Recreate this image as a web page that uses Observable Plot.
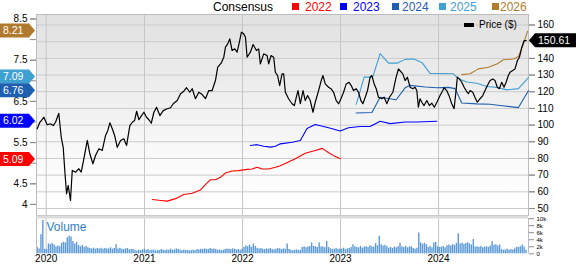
<!DOCTYPE html>
<html>
<head>
<meta charset="utf-8">
<script src="https://cdn.jsdelivr.net/npm/d3@7"></script>
<script src="https://cdn.jsdelivr.net/npm/@observablehq/plot@0.6"></script>
<style>
  body { margin: 0; background: #fff; font-family: "Liberation Sans", Arial, sans-serif; }
  #wrap { position: relative; width: 576px; height: 264px; overflow: hidden; background: #fff; }
  #legend { position: absolute; left: 0; top: 0; width: 576px; height: 14px; font-size: 12px; }
  #legend span { position: absolute; top: 1px; line-height: 12px; white-space: nowrap; }
  #legend i { position: absolute; top: 3px; width: 7px; height: 7px; }
  #main { position: absolute; left: 0; top: 14px; }
  #vol { position: absolute; left: 0; top: 215px; }
  #plegend { position: absolute; left: 464px; top: 20px; font-size: 10px; line-height: 10px; z-index: 5; }
  #plegend i { position: absolute; left: 0; top: 2.7px; width: 10px; height: 4px; background: #000; }
  #plegend span { position: absolute; left: 15px; top: 0; white-space: nowrap; }
</style>
</head>
<body>
<div id="wrap">
  <div id="legend"></div>
  <div id="main"></div>
  <div id="vol"></div>
  <div id="plegend"><i></i><span>Price ($)</span></div>
</div>
<script>
// ---------------- DATA ----------------
// Price line: [decimal year, price $]
const price = [
[2019.908,97.8],[2019.935,101.7],[2019.976,104.7],[2020.010,100.2],[2020.044,100.8],[2020.071,99.7],[2020.095,101.7],[2020.128,107.1],
[2020.153,92.7],[2020.173,86.7],[2020.189,72.8],[2020.207,58.8],[2020.224,63.8],[2020.247,54.8],[2020.265,72.8],[2020.298,71.8],
[2020.332,73.8],[2020.356,71.8],[2020.383,79.8],[2020.418,90.8],[2020.444,82.8],[2020.475,76.8],[2020.502,81.8],[2020.536,85.8],
[2020.570,84.8],[2020.604,93.8],[2020.627,96.8],[2020.648,101.4],[2020.672,97.8],[2020.696,93.8],[2020.723,86.7],[2020.757,90.8],
[2020.790,91.8],[2020.818,87.8],[2020.851,99.7],[2020.876,101.7],[2020.899,102.7],[2020.920,108.3],[2020.943,103.2],[2020.970,105.7],
[2020.994,107.7],[2021.021,104.7],[2021.045,103.2],[2021.069,101.1],[2021.096,107.7],[2021.123,110.7],[2021.157,105.7],[2021.191,108.7],
[2021.232,109.8],[2021.266,110.4],[2021.293,112.8],[2021.334,114.7],[2021.368,118.8],[2021.401,120.3],[2021.429,122.4],[2021.462,119.7],
[2021.487,121.8],[2021.520,115.8],[2021.554,119.7],[2021.589,118.3],[2021.622,115.8],[2021.656,120.7],[2021.690,120.7],[2021.724,126.7],
[2021.747,134.7],[2021.782,137.1],[2021.809,140.7],[2021.826,146.7],[2021.849,148.7],[2021.870,151.7],[2021.894,144.7],[2021.921,145.7],
[2021.945,143.7],[2021.968,149.7],[2021.989,155.7],[2022.012,154.7],[2022.030,152.7],[2022.047,140.7],[2022.080,143.7],[2022.108,148.3],
[2022.142,144.7],[2022.165,145.7],[2022.182,136.7],[2022.216,142.7],[2022.251,141.7],[2022.267,136.7],[2022.291,141.7],[2022.318,140.7],
[2022.335,131.7],[2022.358,129.7],[2022.379,123.7],[2022.403,130.7],[2022.420,130.7],[2022.437,119.7],[2022.470,115.8],[2022.505,112.8],
[2022.529,111.7],[2022.549,116.7],[2022.566,120.7],[2022.590,112.8],[2022.617,120.7],[2022.640,114.7],[2022.664,117.7],[2022.691,114.7],
[2022.719,107.7],[2022.742,113.7],[2022.776,120.7],[2022.803,126.7],[2022.821,129.7],[2022.844,124.7],[2022.878,122.7],[2022.902,121.8],
[2022.929,119.7],[2022.956,114.7],[2022.980,112.8],[2023.004,115.8],[2023.031,119.7],[2023.058,124.7],[2023.086,125.7],[2023.109,123.7],
[2023.132,120.7],[2023.160,121.8],[2023.183,119.7],[2023.208,114.7],[2023.228,112.8],[2023.252,116.7],[2023.275,120.7],[2023.302,128.7],
[2023.320,129.7],[2023.343,124.7],[2023.364,121.8],[2023.387,116.7],[2023.422,115.8],[2023.445,116.7],[2023.473,112.8],[2023.499,116.7],
[2023.534,119.7],[2023.567,128.7],[2023.591,133.7],[2023.635,130.7],[2023.659,126.7],[2023.682,128.7],[2023.710,122.7],[2023.737,121.8],
[2023.760,122.7],[2023.778,120.7],[2023.794,110.7],[2023.811,115.8],[2023.829,113.7],[2023.852,111.7],[2023.880,114.7],[2023.906,111.7],
[2023.931,113.1],[2023.957,110.7],[2023.988,114.3],[2024.015,117.7],[2024.043,120.7],[2024.056,122.4],[2024.083,120.7],[2024.110,117.1],
[2024.134,112.8],[2024.158,109.8],[2024.178,120.7],[2024.191,128.7],[2024.212,127.7],[2024.236,125.7],[2024.260,122.7],[2024.280,120.7],
[2024.303,118.8],[2024.321,120.7],[2024.348,119.7],[2024.372,116.4],[2024.395,113.7],[2024.422,115.8],[2024.450,117.7],[2024.473,120.7],
[2024.497,123.7],[2024.524,126.7],[2024.551,127.7],[2024.574,126.7],[2024.598,122.7],[2024.618,121.8],[2024.643,125.7],[2024.666,122.7],
[2024.687,125.7],[2024.710,129.7],[2024.727,131.7],[2024.755,132.7],[2024.778,133.7],[2024.802,138.7],[2024.823,140.7],[2024.847,146.7],
[2024.871,150.7],[2024.891,150.61]
];
// Consensus EPS estimates: [decimal year, EPS]
const eps2022 = [[2021.080,4.12],[2021.147,4.10],[2021.232,4.08],[2021.317,4.14],[2021.401,4.24],[2021.487,4.27],[2021.571,4.35],
[2021.622,4.48],[2021.673,4.60],[2021.724,4.60],[2021.775,4.66],[2021.826,4.76],[2021.894,4.81],[2021.961,4.82],[2022.047,4.85],
[2022.098,4.86],[2022.149,4.90],[2022.200,4.86],[2022.267,4.86],[2022.335,4.90],[2022.386,4.94],[2022.539,5.11],[2022.640,5.24],
[2022.742,5.31],[2022.814,5.36],[2022.875,5.26],[2022.926,5.19],[2022.997,5.11]];
const eps2023 = [[2022.080,5.43],[2022.149,5.45],[2022.216,5.41],[2022.284,5.39],[2022.335,5.41],[2022.386,5.47],[2022.508,5.51],
[2022.590,5.55],[2022.658,5.84],[2022.742,5.94],[2022.878,5.86],[2022.997,5.78],[2023.081,5.86],[2023.201,5.89],[2023.302,5.89],
[2023.404,6.02],[2023.506,5.96],[2023.659,6.00],[2023.778,6.00],[2023.982,6.02]];
const eps2024 = [[2023.160,6.22],[2023.320,6.23],[2023.404,6.60],[2023.486,6.57],[2023.567,6.54],[2023.659,6.83],[2023.710,6.89],
[2023.863,6.85],[2023.982,6.83],[2024.100,6.84],[2024.168,6.81],[2024.236,6.46],[2024.389,6.44],[2024.524,6.43],[2024.626,6.40],
[2024.813,6.35],[2024.914,6.76]];
const eps2025 = [[2023.160,6.43],[2023.241,7.09],[2023.328,7.09],[2023.404,7.66],[2023.489,7.43],[2023.582,7.43],[2023.659,7.52],
[2023.750,7.53],[2023.832,7.44],[2023.913,7.18],[2024.151,7.17],[2024.202,7.05],[2024.287,6.97],[2024.389,6.94],[2024.491,6.86],
[2024.593,6.84],[2024.695,6.78],[2024.813,6.81],[2024.914,7.08]];
const eps2026 = [[2024.236,7.15],[2024.321,7.17],[2024.405,7.29],[2024.507,7.33],[2024.593,7.41],[2024.660,7.51],[2024.762,7.53],
[2024.813,7.59],[2024.864,7.90],[2024.905,8.20]];
// Weekly volume (thousands), first week starting at volStart
const volStart = 2019.908;
const volume = [
1.8,1.4,5.4,9.5,1.3,1.2,2.8,2.6,2.9,2.5,1.9,2.2,2.0,3.0,3.3,3.1,4.5,5.0,4.8,3.5,2.8,3.2,
2.3,2.0,2.4,1.8,2.1,1.7,1.5,1.4,1.6,1.3,1.5,1.4,1.6,1.3,1.5,1.4,
1.4,1.7,1.3,1.5,2.6,1.4,1.6,1.3,1.2,1.4,1.5,1.1,1.3,1.2,1.0,
0.8,1.0,0.9,1.1,1.3,1.0,1.2,0.9,1.0,1.1,0.8,1.0,0.9,1.2,1.0,0.9,1.1,1.0,
1.3,1.0,1.1,1.4,1.2,1.0,0.9,1.1,0.9,1.0,0.8,0.9,1.0,0.9,1.2,1.1,1.3,1.2,
1.4,1.3,1.2,1.5,1.3,1.4,1.2,1.0,1.1,0.9,1.0,1.2,1.4,1.3,1.2,1.4,1.3,1.1,1.2,1.0,1.3,
1.8,2.2,2.0,2.5,1.9,2.8,2.1,1.6,
1.4,1.5,1.3,1.2,1.4,1.3,1.5,1.2,1.1,1.3,1.5,1.4,1.2,1.4,1.3,2.8,
1.2,1.0,0.9,1.0,1.1,0.9,1.0,1.8,2.0,1.7,1.9,2.1,3.1,2.1,2.0,1.8,3.1,1.9,2.0,1.7,3.5,
1.8,1.4,1.2,1.3,1.5,1.2,1.4,1.3,1.6,1.2,1.4,1.5,1.8,2.6,
2.0,1.8,1.7,2.1,1.6,1.9,2.0,1.8,2.3,2.0,1.9,2.9,2.3,5.0,2.6,2.2,2.4,2.0,
1.6,1.8,1.5,1.9,1.7,2.0,3.0,2.0,1.8,2.1,1.7,1.9,2.0,1.5,1.3,1.6,5.9,3.1,2.7,3.0,2.6,
1.8,2.0,1.7,3.1,3.2,2.0,1.8,1.9,2.1,1.7,2.3,2.5,2.2,2.6,2.4,3.0,5.7,
2.8,3.0,2.7,2.9,3.1,2.8,2.5,4.1,1.9,2.0,1.8,2.1,1.7,1.9,2.0,1.8,2.2,3.4,2.4,2.6,2.2,2.5,
1.2,1.0,1.1,1.3,1.0,1.2,1.1,1.4,1.9,1.8,2.0,2.5,1.9,1.0
];
// Badges (latest consensus values) and last price
const badgeLabels = ["8.21","7.09","6.76","6.02","5.09"];
const badgeValues = [8.21, 7.09, 6.76, 6.02, 5.09];
const lastPrice = 150.61;
// Ticks (labels hidden behind badges are left out)
const priceTicks = [50,60,70,80,90,100,110,120,130,140,150,160];
const priceLabelTicks = [50,60,70,80,90,100,110,120,130,140,160];
const epsTicks = [4,4.5,5,5.5,6,6.5,7,7.5,8,8.5];
const epsLabelTicks = [4,4.5,5.5,6.5,7.5,8.5];
const volTicks = [0,2,4,6,8,10];
const volTickLabels = ["0","2k","4k","6k","8k","10k"];
const yearTicks = [2020,2021,2022,2023,2024];
const legendLabels = ["2022","2023","2024","2025","2026"];

// ---------------- STYLE ----------------
const seriesColors = ["#ff0000","#0000ff","#1f5fb0","#3fa0d2","#b07d2e"];
const badgeColors = ["#b07a2e","#3fa0d2","#1f5fb0","#0000ff","#ff0000"];
const legendSquareX = [292, 340, 392, 439, 492];
const legendTextX = [305, 353, 402, 450, 500];
const font = "'Liberation Sans', Arial, sans-serif";

// ---------------- HELPERS ----------------
const toDate = t => {
  const y = Math.floor(t);
  const s = Date.UTC(y, 0, 1), e = Date.UTC(y + 1, 0, 1);
  return new Date(s + (t - y) * (e - s));
};
const xDomain = [toDate(2019.901), toDate(2024.915)];
// left (EPS) axis expressed in price units
const epsToPrice = d3.scaleLinear().domain([4, 8.5]).range([52.45, 163.6]);

const priceData = price.map(([t, p]) => ({date: toDate(t), p}));
const epsSeries = [eps2022, eps2023, eps2024, eps2025, eps2026].map(s => s.map(([t, v]) => ({date: toDate(t), v})));
const startDate = toDate(volStart);
const volData = volume.map((v, i) => ({date: new Date(+startDate + i * 7 * 864e5), v}));
const yearDates = yearTicks.map(y => new Date(Date.UTC(y, 0, 1)));

// ---------------- LEGEND ----------------
const legend = document.getElementById("legend");
legend.insertAdjacentHTML("beforeend", `<span style="left:213px;color:#000">Consensus</span>`);
legendLabels.forEach((lab, i) => {
  legend.insertAdjacentHTML("beforeend",
    `<i style="left:${legendSquareX[i]}px;background:${seriesColors[i]}"></i><span style="left:${legendTextX[i]}px;color:${seriesColors[i]}">${lab}</span>`);
});

// ---------------- MAIN PANEL ----------------
function background(index, scales, values, dims) {
  const g = d3.create("svg:g");
  const grad = g.append("defs").append("linearGradient").attr("id", "bgGrad")
    .attr("x1", 0).attr("y1", 0).attr("x2", 0).attr("y2", 1);
  grad.append("stop").attr("offset", 0).attr("stop-color", "#e1e1e1");
  grad.append("stop").attr("offset", 0.75).attr("stop-color", "#fbfbfb");
  grad.append("stop").attr("offset", 1).attr("stop-color", "#ffffff");
  g.append("rect")
    .attr("x", dims.marginLeft).attr("y", dims.marginTop)
    .attr("width", dims.width - dims.marginLeft - dims.marginRight)
    .attr("height", dims.height - dims.marginTop - dims.marginBottom)
    .attr("fill", "url(#bgGrad)");
  return g.node();
}

function badges(index, scales, values, dims) {
  const g = d3.create("svg:g").attr("font-family", font).attr("font-size", "10.5px").attr("text-anchor", "start");
  badgeValues.forEach((v, i) => {
    const y = scales.y(epsToPrice(v));
    g.append("path").attr("d", `M0,${y - 7}H29L35,${y}L29,${y + 7}H0Z`).attr("fill", badgeColors[i]);
    g.append("text").attr("x", 3).attr("y", y).attr("dy", "0.36em").attr("fill", "#fff").text(badgeLabels[i]);
  });
  const y = scales.y(lastPrice);
  const x0 = dims.width - dims.marginRight;
  g.append("path").attr("d", `M${x0 + 1},${y}L${x0 + 7},${y - 7}H${dims.width}V${y + 7}H${x0 + 7}Z`).attr("fill", "#000");
  g.append("text").attr("x", x0 + 10).attr("y", y).attr("dy", "0.36em").attr("fill", "#fff").text(d3.format(".2f")(lastPrice));
  return g.node();
}

const main = Plot.plot({
  width: 576, height: 201,
  marginLeft: 36, marginRight: 48, marginTop: 0, marginBottom: 0,
  style: {fontFamily: font, fontSize: "10px", overflow: "visible", background: "transparent"},
  x: {type: "utc", domain: xDomain, axis: null},
  y: {domain: [45.8, 166.3], axis: null, label: null},
  marks: [
    background,
    Plot.gridY(priceTicks, {stroke: "#cbcbcb", strokeOpacity: 1}),
    Plot.gridX(yearDates, {stroke: "#c6c6c6", strokeOpacity: 1}),
    Plot.frame({stroke: "#bdbdbd"}),
    Plot.axisY(priceTicks, {anchor: "right", tickSize: 6, stroke: "#8c8c8c", text: null, label: null}),
    Plot.axisY(priceLabelTicks, {anchor: "right", tickSize: 6, tickPadding: 3, stroke: "#8c8c8c", fill: "#000", label: null, tickFormat: d => String(d)}),
    Plot.axisY(epsTicks.map(d => epsToPrice(d)), {anchor: "left", tickSize: 6, stroke: "#8c8c8c", text: null, label: null}),
    Plot.axisY(epsLabelTicks.map(d => epsToPrice(d)), {anchor: "left", tickSize: 6, tickPadding: 3, stroke: "#8c8c8c", fill: "#000", label: null,
      tickFormat: d => d3.format("~g")(+epsToPrice.invert(d).toFixed(2))}),
    ...epsSeries.map((s, i) => Plot.line(s, {x: "date", y: d => epsToPrice(d.v), stroke: seriesColors[i], strokeWidth: 1.1})),
    Plot.line(priceData, {x: "date", y: "p", stroke: "#000", strokeWidth: 1.2}),
    badges
  ]
});
document.getElementById("main").appendChild(main);

// ---------------- VOLUME PANEL ----------------
const vol = Plot.plot({
  width: 576, height: 49,
  marginLeft: 36, marginRight: 48, marginTop: 0, marginBottom: 10.7,
  style: {fontFamily: font, fontSize: "10px", overflow: "visible", background: "transparent"},
  x: {type: "utc", domain: xDomain, axis: null},
  y: {domain: [0, 10.9], axis: null, label: null},
  marks: [
    Plot.ruleX(yearDates, {y1: 0, y2: 10, stroke: "#c6c6c6"}),
    Plot.ruleY([10.45], {stroke: "#dcdcdc", strokeWidth: 3}),
    Plot.ruleX(volData, {x: "date", y1: 0, y2: "v", stroke: "#5b9ad6", strokeWidth: 1.4}),
    Plot.ruleX(xDomain, {y1: 0, y2: 10, stroke: "#bdbdbd"}),
    Plot.axisY(volTicks, {anchor: "right", tickSize: 5, tickPadding: 3, stroke: "#8c8c8c", fill: "#000", label: null, fontSize: 6,
      tickFormat: (d) => volTickLabels[volTicks.indexOf(d)]}),
    Plot.axisX(yearDates, {anchor: "bottom", tickSize: 0, tickPadding: 1, fill: "#000", label: null, tickFormat: d3.utcFormat("%Y")}),
    Plot.text(["Volume"], {frameAnchor: "top-left", dx: 10, dy: 7, lineAnchor: "top", textAnchor: "start", fill: "#2f80c4", fontSize: 12})
  ]
});
document.getElementById("vol").appendChild(vol);
</script>
</body>
</html>
